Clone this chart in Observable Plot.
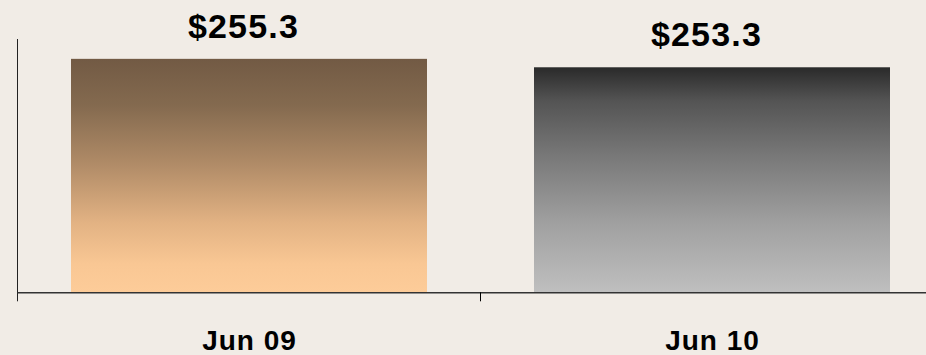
<!DOCTYPE html>
<html>
<head>
<meta charset="utf-8">
<script src="https://cdn.jsdelivr.net/npm/d3@7"></script>
<script src="https://cdn.jsdelivr.net/npm/@observablehq/plot@0.6"></script>
<style>
  html, body { margin: 0; padding: 0; background: #f1ece6; }
  #chart { width: 926px; height: 355px; overflow: hidden; }
  .value-label text { letter-spacing: 1.2px; }
  .cat-axis text { letter-spacing: 1px; }
</style>
</head>
<body>
<div id="chart"></div>
<script>
// Period categories and their values ($ millions)
const periods = ["Jun 09", "Jun 10"];
const values = [255.3, 253.3];
const valueLabels = ["$255.3", "$253.3"];
const gradientIds = ["grad-jun09", "grad-jun10"];

const data = periods.map((p, i) => ({period: p, value: values[i], label: valueLabels[i], grad: `url(#${gradientIds[i]})`}));

// Horizontal layout: the band for each period spans one half of the axis
const xRange = [17.5, 943.5];
const paddingInner = 0.231;
const step = (xRange[1] - xRange[0]) / periods.length;
// band boundary, nudged onto the pixel grid for crisp 1px lines
const boundaryDx = -step / 2 - 0.5;

// Vertical gradient definitions for the two bars
function gradients() {
  const defs = d3.create("svg:defs");
  const specs = [
    [gradientIds[0], [[0, "#725a44"], [0.2, "#846a4f"], [0.45, "#b08b67"], [0.7, "#e2b283"], [0.88, "#f9c794"], [1, "#fdcc99"]]],
    [gradientIds[1], [[0, "#2a2a2a"], [0.15, "#545454"], [0.4, "#797979"], [0.7, "#a1a1a1"], [1, "#bfbfbf"]]]
  ];
  for (const [id, stops] of specs) {
    const g = defs.append("linearGradient").attr("id", id).attr("x1", 0).attr("y1", 0).attr("x2", 0).attr("y2", 1);
    for (const [o, c] of stops) g.append("stop").attr("offset", o).attr("stop-color", c);
  }
  return defs.node();
}

const chart = Plot.plot({
  width: 926,
  height: 355,
  marginTop: 39,
  marginBottom: 62.7,
  marginLeft: 17.5,
  marginRight: 0,
  style: {background: "#f1ece6", fontFamily: "Arial, 'Liberation Sans', sans-serif", color: "#000"},
  x: {type: "band", domain: periods, range: xRange, paddingInner, paddingOuter: paddingInner / 2, axis: null, label: null},
  y: {domain: [200, 260], axis: null},
  color: {type: "identity"},
  marks: [
    gradients,
    Plot.barY(data, {x: "period", y1: 200, y2: "value", fill: "grad"}),
    // value axis line
    Plot.ruleX([periods[0]], {x: d => d, dx: boundaryDx, y1: 260, y2: 200, insetBottom: -9, stroke: "#222", strokeWidth: 1}),
    // category axis line
    Plot.ruleY([200], {stroke: "#333", strokeWidth: 1.5}),
    // tick marks between categories
    Plot.ruleX(periods.slice(1), {x: d => d, dx: boundaryDx, y1: 200, y2: 200, insetBottom: -9, stroke: "#000", strokeWidth: 1}),
    Plot.text(data, {x: "period", y: "value", text: "label", dx: -6, dy: -21.5, lineAnchor: "bottom", fontSize: 34, fontWeight: "bold", fill: "#000", className: "value-label"}),
    Plot.axisX({tickSize: 0, tickPadding: 37.3, label: null, fontSize: 28, fontWeight: "bold", fill: "#000", className: "cat-axis"})
  ]
});

document.getElementById("chart").appendChild(chart);
</script>
</body>
</html>
